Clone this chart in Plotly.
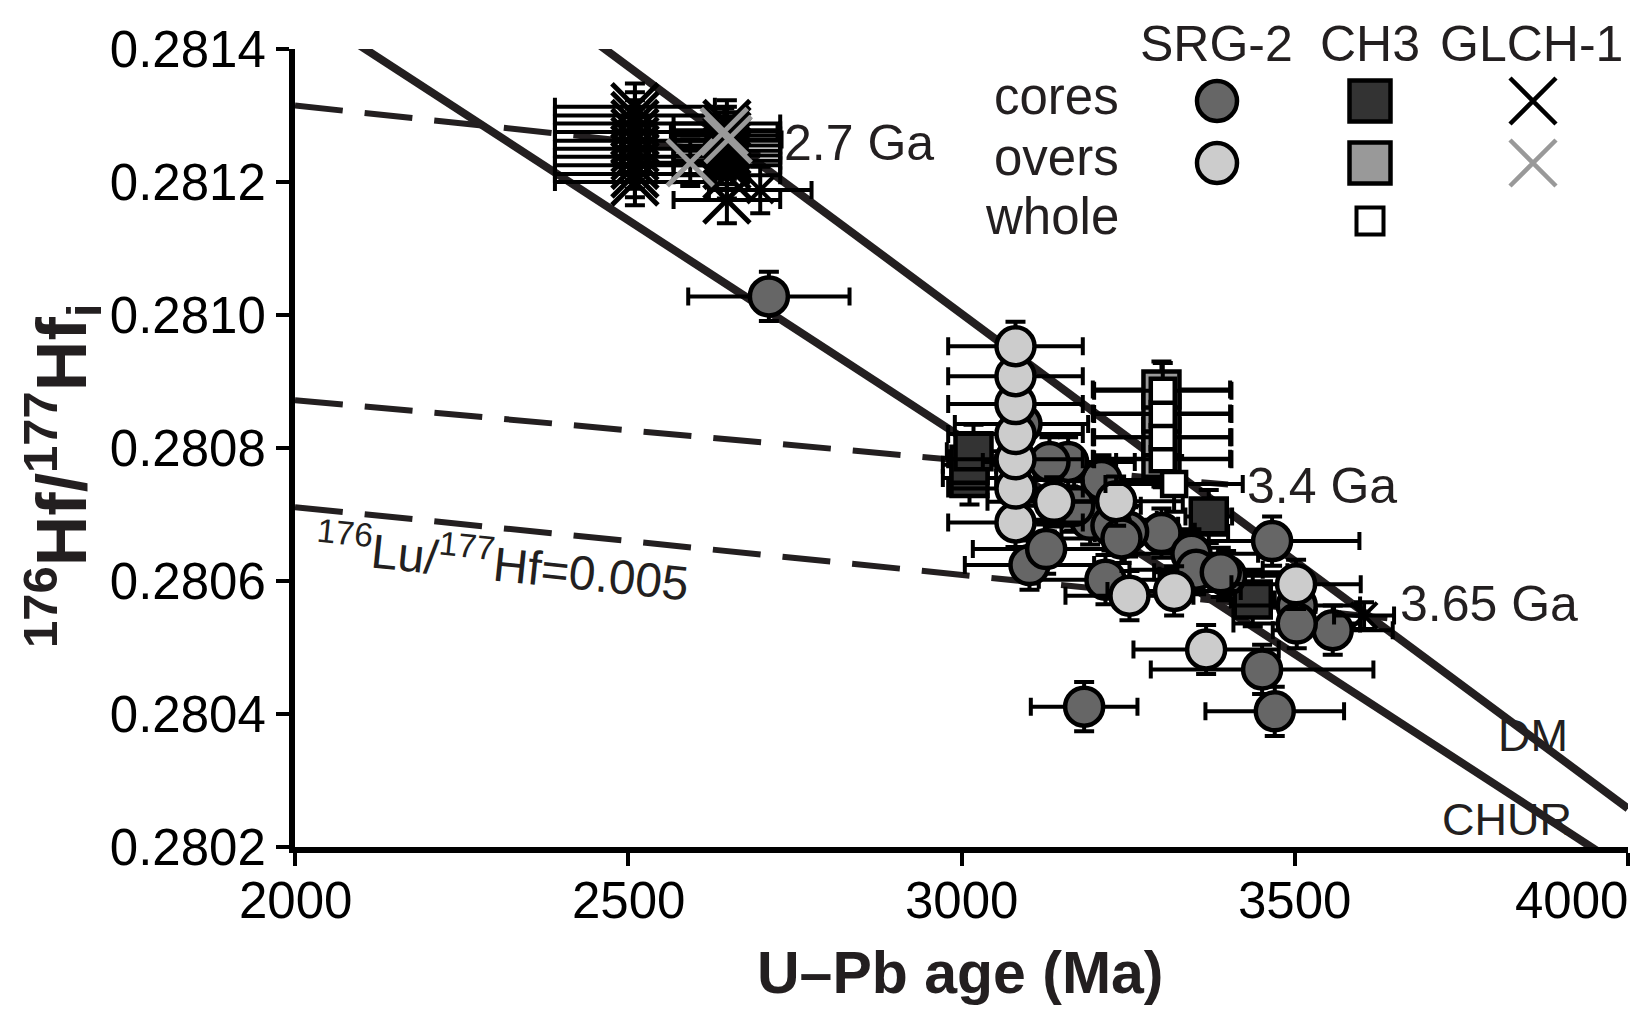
import plotly.graph_objects as go

# ---------------- figure geometry ----------------
W, H = 1632, 1014
ML, MR, MT, MB = 295, 4, 49, 167

def pxx(px):
    return (px - ML) / (W - ML - MR)

def pxy(py):
    return (H - MB - py) / (H - MT - MB)

# ---------------- axes ----------------
x_range = [2000, 4000]
y_range = [0.2802, 0.2814]
x_ticks = [2000, 2500, 3000, 3500, 4000]
x_ticklabels = ["2000", "2500", "3000", "3500", "4000"]
y_ticks = [0.2802, 0.2804, 0.2806, 0.2808, 0.2810, 0.2812, 0.2814]
y_ticklabels = ["0.2802", "0.2804", "0.2806", "0.2808", "0.2810", "0.2812", "0.2814"]

# ---------------- reference curves ----------------
chur_age = [2050, 4000]
chur_hf = [0.281436, 0.280164]
dm_age = [2450, 4000]
dm_hf = [0.281411, 0.280258]
evo27_age = [2000, 2700]
evo27_hf = [0.281315, 0.281240]
evo34_age = [2000, 3400]
evo34_hf = [0.280872, 0.280745]
evo365_age = [2000, 3650]
evo365_hf = [0.280711, 0.280543]

# ---------------- SRG-2 ----------------
srg_core_age = [2711, 3184, 3451, 3470, 3466, 3557, 3503, 3503, 3397, 3102, 3127, 3216, 3193,
                3300, 3345, 3352, 3389, 3210, 3160, 3132, 3250, 3090, 3169, 3225, 3240]
srg_core_hf = [0.281028, 0.280411, 0.280467, 0.280404, 0.280660, 0.280526, 0.280563, 0.280536,
               0.280608, 0.280624, 0.280648, 0.280602, 0.280692, 0.280672, 0.280641, 0.280617,
               0.280613, 0.280752, 0.280779, 0.280779, 0.280674, 0.280836, 0.280713, 0.280683,
               0.280664]
srg_core_xerr = [121, 80, 167, 104, 131, 90, 95, 95, 100, 97, 110, 100, 100,
                 100, 100, 100, 100, 100, 100, 100, 100, 100, 100, 100, 100]
srg_core_yerr = [0.000037] * 25

srg_over_age = [3081, 3081, 3081, 3081, 3081, 3081, 3081, 3139, 3232, 3252, 3319, 3367, 3502]
srg_over_hf = [0.280688, 0.280739, 0.280783, 0.280821, 0.280866, 0.280908, 0.280953,
               0.280719, 0.280720, 0.280578, 0.280585, 0.280497, 0.280595]
srg_over_xerr = [101, 101, 101, 101, 101, 101, 101, 100, 100, 96, 100, 109, 97]
srg_over_yerr = [0.000037] * 13

# ---------------- CH3 ----------------
ch3_core_age = [3012, 3012, 3018, 3371, 3437]
ch3_core_hf = [0.280755, 0.280775, 0.280795, 0.280697, 0.280572]
ch3_core_xerr = [40, 40, 40, 35, 33]
ch3_core_yerr = [0.00004] * 5

ch3_over_age = [3300, 3300, 3300, 3300]
ch3_over_hf = [0.280784, 0.280816, 0.280852, 0.280888]
ch3_over_xerr = [103, 103, 103, 103]
ch3_over_yerr = [0.000042] * 4

ch3_whole_age = [3319, 3302, 3302, 3302, 3302]
ch3_whole_hf = [0.280746, 0.280783, 0.280816, 0.280851, 0.280886]
ch3_whole_xerr = [103, 103, 103, 103, 103]
ch3_whole_yerr = [0.000042] * 5

# ---------------- GLCH-1 ----------------
glch_core_age = [2510, 2510, 2510, 2510, 2510, 2510, 2510, 2510, 2510, 2510,
                 2648, 2648, 2648, 2648, 2648, 2648, 2648, 2648, 2648, 2648, 2648]
glch_core_hf = [0.281313, 0.281300, 0.281288, 0.281275, 0.281262, 0.281250, 0.281238,
                0.281225, 0.281212, 0.281200,
                0.281288, 0.281278, 0.281270, 0.281262, 0.281255, 0.281247, 0.281240,
                0.281232, 0.281225, 0.281210, 0.281173]
glch_core_xerr = [120] * 10 + [80] * 11
glch_core_yerr = [0.000035] * 21

glch_small_age = [2698, 3604]
glch_small_hf = [0.281188, 0.280548]
glch_small_xerr = [77, 45]
glch_small_yerr = [0.000035, 0.00002]

glch_over_age = [2593, 2644, 2650]
glch_over_hf = [0.281229, 0.281276, 0.281264]
glch_over_xerr = [80, 80, 80]
glch_over_yerr = [0.000035] * 3

# ---------------- styles ----------------
LINE_C = "#231f20"
TXT_C = "#231f20"
FONT = "Liberation Sans, Arial, sans-serif"
C_SRG_CORE = "#666666"
C_SRG_OVER = "#cccccc"
C_CH3_CORE = "#333333"
C_CH3_OVER = "#999999"
C_WHITE = "#ffffff"
C_GLCH_OVER = "#999999"

fig = go.Figure()

def ref_line(xs, ys, dash=None, width=8):
    fig.add_trace(go.Scatter(x=xs, y=ys, mode="lines",
                             line=dict(color=LINE_C, width=width, dash=dash),
                             hoverinfo="skip", showlegend=False))

ref_line(evo27_age, evo27_hf, dash="48px,22px", width=6)
ref_line(evo34_age, evo34_hf, dash="48px,22px", width=6)
ref_line(evo365_age, evo365_hf, dash="48px,22px", width=6)
ref_line(chur_age, chur_hf)
ref_line(dm_age, dm_hf)

def pts(xs, ys, xe, ye, symbol, size, fill, lw=4.5, lc="black"):
    fig.add_trace(go.Scatter(
        x=xs, y=ys, mode="markers",
        error_x=dict(type="data", array=xe, color="black", thickness=4, width=9),
        error_y=dict(type="data", array=ye, color="black", thickness=4, width=10),
        marker=dict(symbol=symbol, size=size, color=fill,
                    line=dict(color=lc, width=lw)),
        cliponaxis=False, hoverinfo="skip", showlegend=False))

pts(ch3_core_age, ch3_core_hf, ch3_core_xerr, ch3_core_yerr, "square", 36, C_CH3_CORE)
pts(srg_core_age, srg_core_hf, srg_core_xerr, srg_core_yerr, "circle", 38, C_SRG_CORE)
pts(srg_over_age, srg_over_hf, srg_over_xerr, srg_over_yerr, "circle", 38, C_SRG_OVER)
pts(ch3_over_age, ch3_over_hf, ch3_over_xerr, ch3_over_yerr, "square", 36, C_CH3_OVER)
pts(ch3_whole_age, ch3_whole_hf, ch3_whole_xerr, ch3_whole_yerr, "square", 24, C_WHITE)
pts(glch_core_age, glch_core_hf, glch_core_xerr, glch_core_yerr, "x-thin", 46, "black",
    lw=5, lc="black")
pts(glch_small_age, glch_small_hf, glch_small_xerr, glch_small_yerr, "x-thin", 26, "black",
    lw=4, lc="black")
pts(glch_over_age, glch_over_hf, glch_over_xerr, glch_over_yerr, "x-thin", 46, C_GLCH_OVER,
    lw=5, lc=C_GLCH_OVER)

# ---------------- legend block (pixel overlay axes) ----------------
leg_col_x = [1217, 1370, 1533]
leg_row_y = [101, 163, 221]
leg_headers = ["SRG-2", "CH3", "GLCH-1"]
leg_header_x = [1216, 1370, 1531]
leg_rows = ["cores", "overs", "whole"]

def leg_marker(x, y, symbol, size, fill, lw, lc):
    fig.add_trace(go.Scatter(x=[x], y=[y], xaxis="x2", yaxis="y2", mode="markers",
                             marker=dict(symbol=symbol, size=size, color=fill,
                                         line=dict(color=lc, width=lw)),
                             cliponaxis=False, hoverinfo="skip", showlegend=False))

leg_marker(leg_col_x[0], leg_row_y[0], "circle", 40, C_SRG_CORE, 4.5, "black")
leg_marker(leg_col_x[0], leg_row_y[1], "circle", 40, C_SRG_OVER, 4.5, "black")
leg_marker(leg_col_x[1], leg_row_y[0], "square", 41, C_CH3_CORE, 4.5, "black")
leg_marker(leg_col_x[1], leg_row_y[1], "square", 41, C_CH3_OVER, 4.5, "black")
leg_marker(leg_col_x[1], leg_row_y[2], "square", 27, C_WHITE, 4, "black")
leg_marker(leg_col_x[2], leg_row_y[0], "x-thin", 46, "black", 4.5, "black")
leg_marker(leg_col_x[2], leg_row_y[1], "x-thin", 46, C_GLCH_OVER, 4.5, C_GLCH_OVER)

ann = []
for t, x in zip(leg_headers, leg_header_x):
    ann.append(dict(x=pxx(x), y=pxy(44), xref="paper", yref="paper", text=t,
                    showarrow=False, xanchor="center", yanchor="middle",
                    font=dict(family=FONT, size=50, color=TXT_C)))
for t, y in zip(leg_rows, leg_row_y):
    ann.append(dict(x=pxx(1121), y=pxy(y - 5), xref="paper", yref="paper", text=t,
                    showarrow=False, xanchor="right", yanchor="middle",
                    font=dict(family=FONT, size=51, color=TXT_C)))

# x tick labels (the last one is kept inside the figure, right aligned)
for v, t in zip(x_ticks, x_ticklabels):
    last = v == x_range[1]
    ann.append(dict(x=v, y=pxy(900), xref="x", yref="paper", text=t, showarrow=False,
                    xanchor="right" if last else "center", yanchor="middle",
                    xshift=2 if last else 0,
                    font=dict(family=FONT, size=51, color="black")))

# curve labels (data coordinates)
labels = [("2.7 Ga", 2846, 0.281258), ("3.4 Ga", 3541, 0.280743),
          ("3.65 Ga", 3792, 0.280565), ("DM", 3858, 0.280368), ("CHUR", 3818, 0.280242)]
for t, x, y in labels:
    size = 45 if t in ("DM", "CHUR") else 50
    ann.append(dict(x=x, y=y, xref="x", yref="y", text=t, showarrow=False,
                    xanchor="center", yanchor="middle",
                    font=dict(family=FONT, size=size, color=TXT_C)))
ann.append(dict(x=2311, y=0.28063, xref="x", yref="y",
                text="<sup>176</sup>Lu/<sup>177</sup>Hf=0.005", showarrow=False,
                textangle=6, xanchor="center", yanchor="middle",
                font=dict(family=FONT, size=48, color=TXT_C)))

# axis titles
ann.append(dict(x=pxx(960), y=pxy(973), xref="paper", yref="paper",
                text="<b>U\u2013Pb age (Ma)</b>", showarrow=False,
                xanchor="center", yanchor="middle",
                font=dict(family=FONT, size=59, color=TXT_C)))
ann.append(dict(x=pxx(62), y=pxy(476), xref="paper", yref="paper",
                text="<b><sup>176</sup>Hf/<sup>177</sup>Hf<sub>i</sub></b>", showarrow=False,
                textangle=-90, xanchor="center", yanchor="middle",
                font=dict(family=FONT, size=70, color=TXT_C)))

axis_common = dict(showline=True, linecolor="black", linewidth=6, ticks="outside",
                   ticklen=13, tickwidth=4, tickcolor="black", showgrid=False,
                   zeroline=False, tickfont=dict(family=FONT, size=51, color="black"))

fig.update_layout(
    width=W, height=H,
    margin=dict(l=ML, r=MR, t=MT, b=MB),
    paper_bgcolor="white", plot_bgcolor="white",
    xaxis=dict(range=x_range, tickvals=x_ticks, showticklabels=False, **axis_common),
    yaxis=dict(range=y_range, tickvals=y_ticks, ticktext=y_ticklabels, **axis_common),
    xaxis2=dict(range=[ML, W - MR], overlaying="x", visible=False, fixedrange=True),
    yaxis2=dict(range=[H - MB, MT], overlaying="y", visible=False, fixedrange=True),
    annotations=ann,
    showlegend=False,
)

fig.write_html("out.html")
